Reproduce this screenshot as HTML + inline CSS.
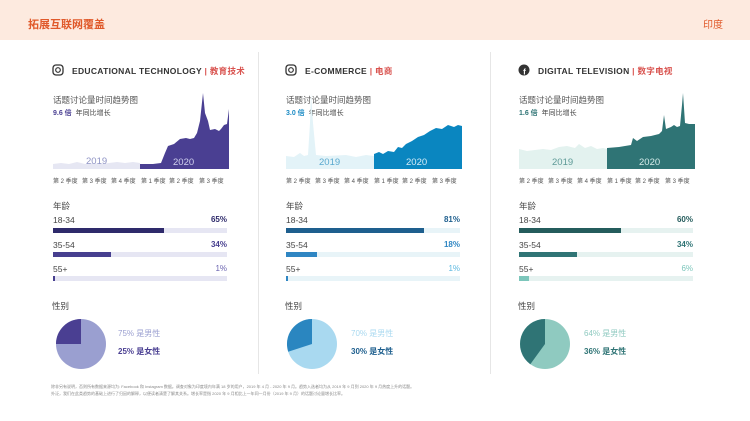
<!DOCTYPE html>
<html><head><meta charset="utf-8"><style>
*{margin:0;padding:0;box-sizing:border-box}
body{width:750px;height:421px;background:#fff;font-family:"Liberation Sans","Noto Sans CJK SC",sans-serif;position:relative;overflow:hidden;color:#444}
.a{position:absolute;white-space:nowrap}
.hdr{left:0;top:0;width:750px;height:40px;background:#fdeadf}
.t{font-size:11px;font-weight:bold;color:#e0592a}
.ttl{font-size:8.5px;font-weight:bold;letter-spacing:.3px;color:#333}
.ttl b{color:#d9534f;font-weight:bold}
.sub{font-size:8.5px;color:#555}
.g{font-size:7px;color:#444}
.q{font-size:6px;color:#555;top:176px}
.lab{font-size:8.5px;color:#444}
.pct{font-size:8px;font-weight:bold;width:60px;text-align:right}
.bar{height:5px}
.div{width:1px;background:#e6e6e6;top:52px;height:322px}
.foot{font-size:4px;color:#888;line-height:7px}
</style></head><body>
<div class="a hdr"></div>
<div class="a t" style="left:28px;top:16px">拓展互联网覆盖</div>
<div class="a" style="left:703px;top:16px;font-size:10px;color:#e0592a">印度</div>
<div class="a div" style="left:258px"></div>
<div class="a div" style="left:490px"></div>

<svg class="a" style="left:52px;top:64px" width="12" height="12"><rect x="1" y="1" width="10" height="10" rx="3" fill="none" stroke="#333" stroke-width="1.3"/><circle cx="6" cy="6" r="2.3" fill="none" stroke="#333" stroke-width="1.2"/></svg>
<div class="a ttl" style="left:72px;top:65px">EDUCATIONAL TECHNOLOGY <b>| 教育技术</b></div>
<svg class="a" style="left:285px;top:64px" width="12" height="12"><rect x="1" y="1" width="10" height="10" rx="3" fill="none" stroke="#333" stroke-width="1.3"/><circle cx="6" cy="6" r="2.3" fill="none" stroke="#333" stroke-width="1.2"/></svg>
<div class="a ttl" style="left:305px;top:65px">E-COMMERCE <b>| 电商</b></div>
<svg class="a" style="left:518px;top:64px" width="12" height="12"><circle cx="6" cy="6" r="5.5" fill="#333"/><text x="6.5" y="10.5" font-size="8" font-weight="bold" fill="#fff" text-anchor="middle" font-family="Liberation Sans">f</text></svg>
<div class="a ttl" style="left:538px;top:65px">DIGITAL TELEVISION <b>| 数字电视</b></div>

<div class="a sub" style="left:53px;top:94px">话题讨论量时间趋势图</div>
<div class="a g" style="left:53px;top:108px"><b style="color:#4a3f92">9.6 倍</b>&nbsp; 年同比增长</div>
<div class="a sub" style="left:286px;top:94px">话题讨论量时间趋势图</div>
<div class="a g" style="left:286px;top:108px"><b style="color:#1a8ac4">3.0 倍</b>&nbsp; 年同比增长</div>
<div class="a sub" style="left:519px;top:94px">话题讨论量时间趋势图</div>
<div class="a g" style="left:519px;top:108px"><b style="color:#2f7475">1.6 倍</b>&nbsp; 年同比增长</div>

<svg class="a" style="left:53px;top:93px" width="176" height="76">
<polygon fill="#e6e7f3" points="0,76 0,71 8,70 16,71 24,69 32,71 40,70 48,71 56,70 64,69 72,70 80,69 87,70 87,76"/>
<polygon fill="#4a3f92" points="87,76 87,71 100,71 108,70 112,60 115,53 121,51 127,46 133,45 137,46 141,45 144,40 147,28 150,0 152,20 155,28 157,37 162,36 166,38 168,36 171,32 174,31 176,16 176,76"/>
<text x="33" y="71" font-size="9.5" fill="#8e93c4" font-family="Liberation Sans">2019</text>
<text x="120" y="72" font-size="9.5" fill="#d0d0ee" font-family="Liberation Sans">2020</text>
</svg>
<svg class="a" style="left:286px;top:93px" width="176" height="76">
<polygon fill="#e3f3f8" points="0,76 0,63 8,64 14,60 18,63 22,62 24,30 25,0 27,30 30,62 40,63 60,62 70,64 80,62 88,63 88,76"/>
<polygon fill="#0a86c0" points="88,76 88,61 93,59 97,61 102,58 108,59 112,54 116,55 120,51 126,48 132,44 138,42 144,38 150,35 156,36 162,32 168,34 172,32 176,33 176,76"/>
<text x="33" y="72" font-size="9.5" fill="#5aa9cf" font-family="Liberation Sans">2019</text>
<text x="120" y="72" font-size="9.5" fill="#d5ecf7" font-family="Liberation Sans">2020</text>
</svg>
<svg class="a" style="left:519px;top:93px" width="176" height="76">
<polygon fill="#e3f2ef" points="0,76 0,56 8,58 16,57 24,56 32,57 40,54 48,53 56,55 60,51 66,55 72,53 78,56 84,55 88,56 88,76"/>
<polygon fill="#2f7475" points="88,76 88,55 100,54 112,52 114,45 118,48 124,44 132,43 140,41 143,38 145,22 147,36 152,34 155,32 158,34 161,33 163,12 164,0 166,30 170,31 176,31 176,76"/>
<text x="33" y="72" font-size="9.5" fill="#5e9a97" font-family="Liberation Sans">2019</text>
<text x="120" y="72" font-size="9.5" fill="#d5ecea" font-family="Liberation Sans">2020</text>
</svg>

<div class="a q" style="left:53px">第 2 季度</div><div class="a q" style="left:82px">第 3 季度</div><div class="a q" style="left:111px">第 4 季度</div><div class="a q" style="left:141px">第 1 季度</div><div class="a q" style="left:169px">第 2 季度</div><div class="a q" style="left:199px">第 3 季度</div>
<div class="a q" style="left:286px">第 2 季度</div><div class="a q" style="left:315px">第 3 季度</div><div class="a q" style="left:344px">第 4 季度</div><div class="a q" style="left:374px">第 1 季度</div><div class="a q" style="left:402px">第 2 季度</div><div class="a q" style="left:432px">第 3 季度</div>
<div class="a q" style="left:519px">第 2 季度</div><div class="a q" style="left:548px">第 3 季度</div><div class="a q" style="left:577px">第 4 季度</div><div class="a q" style="left:607px">第 1 季度</div><div class="a q" style="left:635px">第 2 季度</div><div class="a q" style="left:665px">第 3 季度</div>

<div class="a lab" style="left:53px;top:200px">年龄</div>
<div class="a lab" style="left:53px;top:215px">18-34</div><div class="a pct" style="left:167px;top:215px;color:#2e2a6b">65%</div>
<div class="a bar" style="left:53px;top:228px;width:174px;background:#e6e6f3"></div><div class="a bar" style="left:53px;top:228px;width:111px;background:#2e2a6b"></div>
<div class="a lab" style="left:53px;top:240px">35-54</div><div class="a pct" style="left:167px;top:240px;color:#473f8f">34%</div>
<div class="a bar" style="left:53px;top:252px;width:174px;background:#e6e6f3"></div><div class="a bar" style="left:53px;top:252px;width:58px;background:#473f8f"></div>
<div class="a lab" style="left:53px;top:264px">55+</div><div class="a pct" style="left:167px;top:264px;color:#6b64b0;font-weight:normal">1%</div>
<div class="a bar" style="left:53px;top:276px;width:174px;background:#e6e6f3"></div><div class="a bar" style="left:53px;top:276px;width:2px;background:#473f8f"></div>

<div class="a lab" style="left:286px;top:200px">年龄</div>
<div class="a lab" style="left:286px;top:215px">18-34</div><div class="a pct" style="left:400px;top:215px;color:#1e5f8e">81%</div>
<div class="a bar" style="left:286px;top:228px;width:174px;background:#e8f4f8"></div><div class="a bar" style="left:286px;top:228px;width:138px;background:#1e5f8e"></div>
<div class="a lab" style="left:286px;top:240px">35-54</div><div class="a pct" style="left:400px;top:240px;color:#2f86c3">18%</div>
<div class="a bar" style="left:286px;top:252px;width:174px;background:#e8f4f8"></div><div class="a bar" style="left:286px;top:252px;width:31px;background:#2f86c3"></div>
<div class="a lab" style="left:286px;top:264px">55+</div><div class="a pct" style="left:400px;top:264px;color:#5cb8e0;font-weight:normal">1%</div>
<div class="a bar" style="left:286px;top:276px;width:174px;background:#e8f4f8"></div><div class="a bar" style="left:286px;top:276px;width:2px;background:#2f86c3"></div>

<div class="a lab" style="left:519px;top:200px">年龄</div>
<div class="a lab" style="left:519px;top:215px">18-34</div><div class="a pct" style="left:633px;top:215px;color:#245c5c">60%</div>
<div class="a bar" style="left:519px;top:228px;width:174px;background:#e6f2f0"></div><div class="a bar" style="left:519px;top:228px;width:102px;background:#245c5c"></div>
<div class="a lab" style="left:519px;top:240px">35-54</div><div class="a pct" style="left:633px;top:240px;color:#2f7475">34%</div>
<div class="a bar" style="left:519px;top:252px;width:174px;background:#e6f2f0"></div><div class="a bar" style="left:519px;top:252px;width:58px;background:#2f7475"></div>
<div class="a lab" style="left:519px;top:264px">55+</div><div class="a pct" style="left:633px;top:264px;color:#7cc6bb;font-weight:normal">6%</div>
<div class="a bar" style="left:519px;top:276px;width:174px;background:#e6f2f0"></div><div class="a bar" style="left:519px;top:276px;width:10px;background:#7cc6bb"></div>

<div class="a lab" style="left:52px;top:300px">性别</div>
<svg class="a" style="left:54px;top:317px" width="54" height="54"><circle cx="27" cy="27" r="25" fill="#9a9fd0"/><path d="M27,27 L2,27 A25,25 0 0 1 27,2 Z" fill="#4a3f92"/></svg>
<div class="a g" style="left:118px;top:328px;font-size:8px;color:#9a9fd0">75% 是男性</div>
<div class="a g" style="left:118px;top:346px;font-size:8px;color:#4a3f92;font-weight:bold">25% 是女性</div>

<div class="a lab" style="left:285px;top:300px">性别</div>
<svg class="a" style="left:285px;top:317px" width="54" height="54"><circle cx="27" cy="27" r="25" fill="#a9d9f0"/><path d="M27,27 L3.2,34.7 A25,25 0 0 1 27,2 Z" fill="#2a86c0"/></svg>
<div class="a g" style="left:351px;top:328px;font-size:8px;color:#a9d9f0">70% 是男性</div>
<div class="a g" style="left:351px;top:346px;font-size:8px;color:#1e5f8e;font-weight:bold">30% 是女性</div>

<div class="a lab" style="left:518px;top:300px">性别</div>
<svg class="a" style="left:518px;top:317px" width="54" height="54"><circle cx="27" cy="27" r="25" fill="#8fcac0"/><path d="M27,27 L12.3,47.2 A25,25 0 0 1 27,2 Z" fill="#2f7475"/></svg>
<div class="a g" style="left:584px;top:328px;font-size:8px;color:#8fcac0">64% 是男性</div>
<div class="a g" style="left:584px;top:346px;font-size:8px;color:#2f7475;font-weight:bold">36% 是女性</div>

<div class="a foot" style="left:51px;top:383px">除非另有说明，否则所有数据来源均为: Facebook 和 Instagram 数据。调查对象为印度境内年满 18 岁的用户，2019 年 4 月 - 2020 年 9 月。趋势入选者均为从 2019 年 9 月到 2020 年 9 月热度上升的话题。<br>外泛，我们在此类趋势的基础上进行了归因的解释，以便读者清楚了解其关系。增长率是指 2020 年 9 月相比上一年同一月份（2019 年 9 月）的话题讨论量增长比率。</div>
</body></html>
